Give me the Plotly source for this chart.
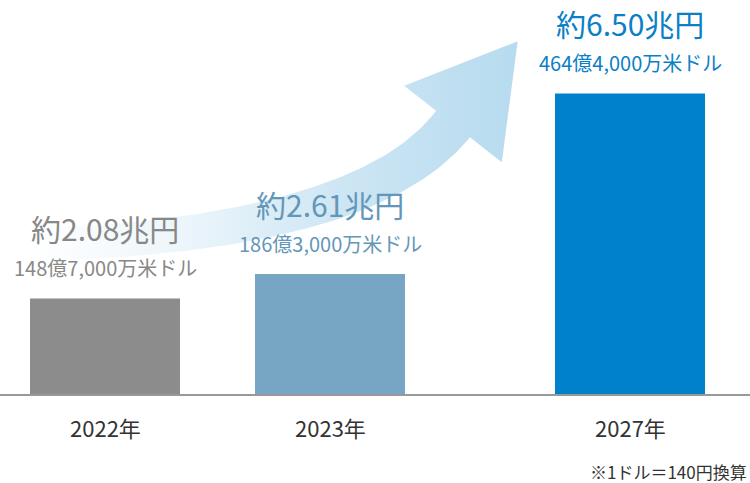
import numpy as np
import plotly.graph_objects as go

# ---- data ----
years = ["2022年", "2023年", "2027年"]
values_trillion_yen = [2.08, 2.61, 6.50]
main_labels = ["約2.08兆円", "約2.61兆円", "約6.50兆円"]
sub_labels = ["148億7,000万米ドル", "186億3,000万米ドル", "464億4,000万米ドル"]
footnote = "※1ドル＝140円換算"

# ---- layout / style ----
slot_pos = [0.0, 1.0, 7.0 / 3.0]          # horizontal slots of the bars
bar_colors = ["#8c8c8c", "#76a6c4", "#0082cb"]
text_colors = ["#888888", "#6397b9", "#0b80c6"]
FONT = "Noto Sans CJK JP"
W, H = 750, 483

fig = go.Figure()

# ---- decorative curved arrow (pixel-space overlay axes) ----
P0 = np.array([30.0, 245.0])
P2 = np.array([453.0, 124.0])
d_end = np.array([0.616, -0.787])
P1 = P2 - 141.0 * d_end
t = np.linspace(0, 1, 80)[:, None]
C = (1 - t) ** 2 * P0 + 2 * t * (1 - t) * P1 + t ** 2 * P2
T = 2 * (1 - t) * (P1 - P0) + 2 * t * (P2 - P1)
T = T / np.linalg.norm(T, axis=1, keepdims=True)
N = np.column_stack([-T[:, 1], T[:, 0]])
hw = (16.0 + 5.5 * t[:, 0])[:, None]
upper = C - hw * N
lower = C + hw * N
n_end = np.array([-d_end[1], d_end[0]])
head_half = 62.0
head_len = 105.0
corner_l = P2 - head_half * n_end
corner_r = P2 + head_half * n_end
tip = P2 + head_len * d_end
poly = np.vstack([upper, corner_l, tip, corner_r, lower[::-1], upper[:1]])

fig.add_trace(go.Scatter(
    x=poly[:, 0], y=poly[:, 1], xaxis="x2", yaxis="y2",
    mode="lines", line=dict(width=0, color="rgba(0,0,0,0)"),
    fill="toself",
    fillgradient=dict(
        type="horizontal",
        colorscale=[[0, "rgba(183,219,239,0)"],
                    [0.3, "rgba(183,219,239,0.25)"],
                    [0.65, "rgba(183,219,239,0.7)"],
                    [1, "rgba(183,219,239,1)"]],
    ),
    hoverinfo="skip", showlegend=False,
))

# ---- bars ----
fig.add_trace(go.Bar(
    x=slot_pos, y=values_trillion_yen, width=2.0 / 3.0,
    marker=dict(color=bar_colors, line=dict(width=0)),
    hoverinfo="skip", showlegend=False,
))

annotations = []
for xp, v, m, s, c, yr in zip(slot_pos, values_trillion_yen, main_labels,
                              sub_labels, text_colors, years):
    annotations.append(dict(x=xp, y=v, xref="x", yref="y", text=m,
                            showarrow=False, yshift=70, yanchor="middle",
                            font=dict(family=FONT, size=30, color=c)))
    annotations.append(dict(x=xp, y=v, xref="x", yref="y", text=s,
                            showarrow=False, yshift=30.5, yanchor="middle",
                            font=dict(family=FONT, size=20, color=c)))
    annotations.append(dict(x=xp, y=0, xref="x", yref="y", text=yr,
                            showarrow=False, yshift=-32, yanchor="middle",
                            font=dict(family=FONT, size=22, color="#333333")))
annotations.append(dict(x=1, y=0, xref="paper", yref="paper", text=footnote,
                        showarrow=False, xanchor="right", yanchor="middle",
                        xshift=-1, yshift=12,
                        font=dict(family=FONT, size=17, color="#333333")))

scale = 46.4
fig.update_layout(
    width=W, height=H,
    margin=dict(l=0, r=0, t=0, b=0),
    paper_bgcolor="white", plot_bgcolor="white",
    xaxis=dict(range=[-105 / 225, (W - 105) / 225], visible=False, fixedrange=True),
    yaxis=dict(range=[-(H - 395) / scale, 395 / scale], visible=False, fixedrange=True),
    xaxis2=dict(range=[0, W], visible=False, overlaying="x", fixedrange=True),
    yaxis2=dict(range=[H, 0], visible=False, overlaying="y", fixedrange=True),
    annotations=annotations,
    shapes=[dict(type="line", xref="paper", yref="y", x0=0, x1=1, y0=0, y1=0,
                 line=dict(color="#999999", width=2))],
    showlegend=False,
)

fig.write_html(
    "out.html",
    config={"displayModeBar": False},
    post_script="document.body.style.margin='0';document.body.style.overflow='hidden';",
)
